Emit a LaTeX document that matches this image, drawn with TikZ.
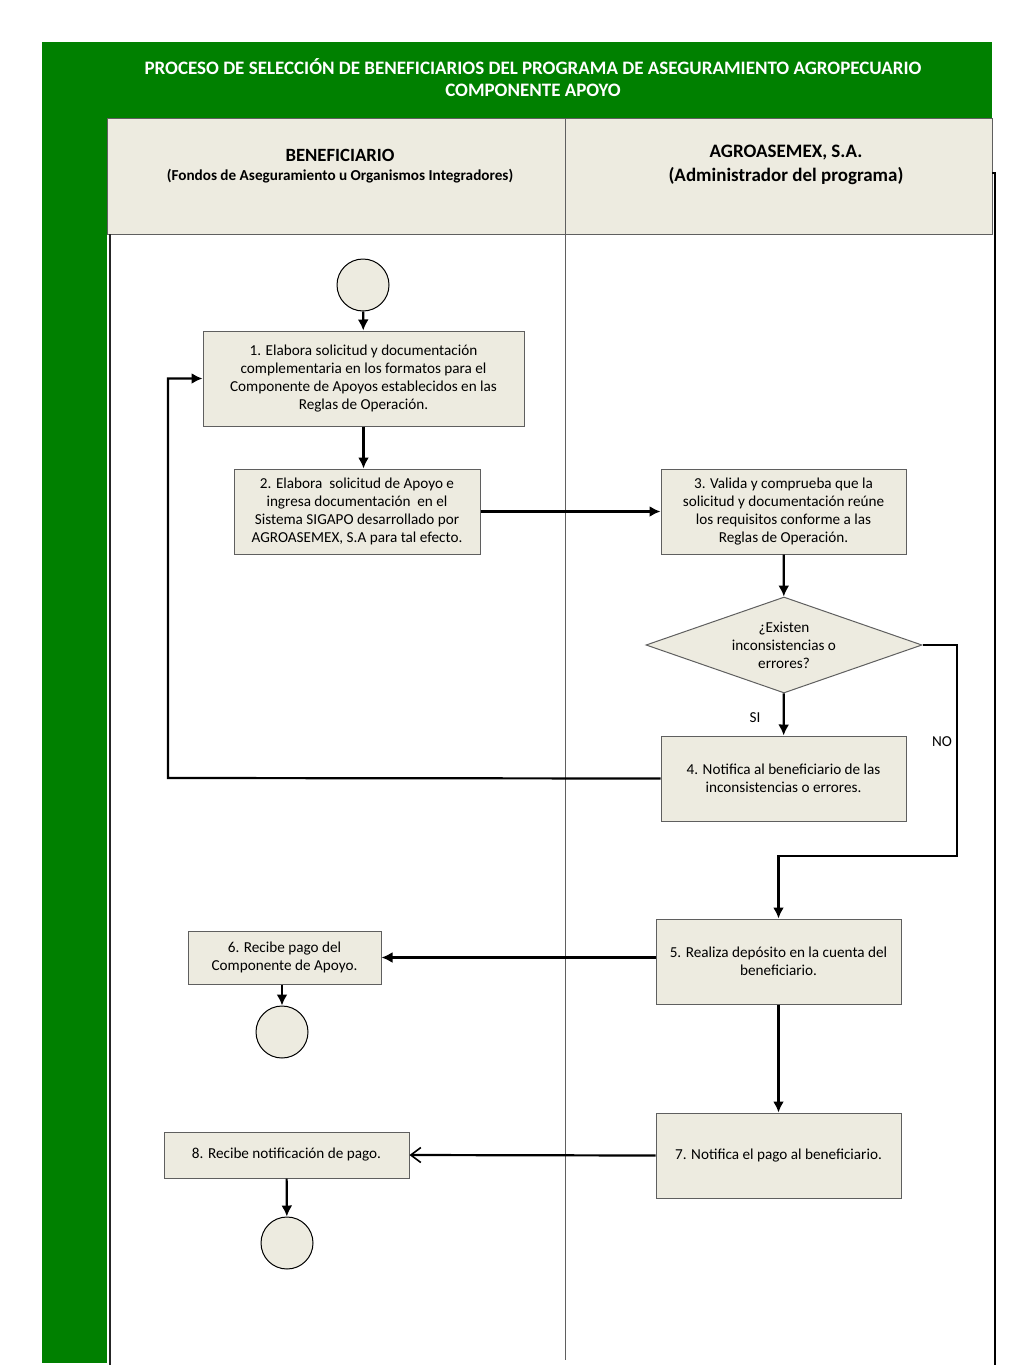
\documentclass[tikz,border=0pt]{standalone}
\usepackage{fontspec}
\setmainfont{Carlito}
\usepackage{tikz}
\usetikzlibrary{positioning,shapes,arrows,arrows.meta}
\definecolor{verde}{RGB}{0,128,0}
\definecolor{caja}{RGB}{237,235,224}
\definecolor{borde}{RGB}{95,95,95}
\tikzset{
  paso/.style={draw=borde,fill=caja,line width=1pt,align=center,inner sep=0pt,
    font=\fontsize{15.2}{18}\selectfont},
  circulo/.style={circle,draw=black,fill=caja,line width=1pt,minimum size=52pt,inner sep=0pt},
  decision/.style={diamond,draw=borde,fill=caja,line width=1pt,align=center,inner sep=0pt,
    shape aspect=2.9,minimum width=276pt,minimum height=96pt,font=\fontsize{15.2}{18}\selectfont},
  flecha/.style={-{Latex[length=11pt,width=11pt]},line width=2.2pt},
  etiqueta/.style={font=\fontsize{15.2}{18}\selectfont}
}
\begin{document}
\begin{tikzpicture}[x=1pt,y=-1pt]
\useasboundingbox[fill=white] (0,0) rectangle (1024,1365);
% marco verde
\fill[verde] (42,42) rectangle (992,118);
\fill[verde] (42,42) rectangle (107,1363);
\node[white,align=center,font=\bfseries\fontsize{19}{22}\selectfont] (titulo) at (533,78)
  {PROCESO DE SELECCIÓN DE BENEFICIARIOS DEL PROGRAMA DE ASEGURAMIENTO AGROPECUARIO\\COMPONENTE APOYO};
% carriles
\node[draw=borde,fill=caja,minimum width=458pt,minimum height=116pt,inner sep=0pt] (carril1) at (336,176) {};
\node[draw=borde,fill=caja,minimum width=427pt,minimum height=116pt,inner sep=0pt] (carril2) at (778.5,176) {};
\node[font=\bfseries\fontsize{18.7}{20}\selectfont] (tit1) at (340,155) {BENEFICIARIO};
\node[font=\bfseries\fontsize{15.2}{16}\selectfont] (sub1) at (340,176) {(Fondos de Aseguramiento u Organismos Integradores)};
\node[font=\bfseries\fontsize{19}{24}\selectfont,align=center] (tit2) at (786,165) {AGROASEMEX, S.A.\\(Administrador del programa)};
\draw[line width=1.8pt,black!85] (110,234) -- (110,1365);
\draw[line width=0.9pt,borde] (565,234) -- (565,1360);
\draw[line width=1.8pt] (992,173) -- (995,173) -- (995,1365);
% pasos
\node[circulo] (ini) at (363,285) {};
\node[paso,minimum width=321pt,minimum height=95pt] (p1) at (363.5,378.5)
  {1. Elabora solicitud y documentación\\complementaria en los formatos para el\\Componente de Apoyos establecidos en las\\Reglas de Operación.};
\node[paso,minimum width=246pt,minimum height=85pt] (p2) at (357,511.5)
  {2. Elabora\ \ solicitud de Apoyo e\\ingresa documentación\ \ en el\\Sistema SIGAPO desarrollado por\\AGROASEMEX, S.A para tal efecto.};
\node[paso,minimum width=245pt,minimum height=85pt] (p3) at (783.5,511.5)
  {3. Valida y comprueba que la\\solicitud y documentación reúne\\los requisitos conforme a las\\Reglas de Operación.};
\node[decision] (dec) at (784,645) {¿Existen\\inconsistencias o\\errores?};
\node[paso,minimum width=245pt,minimum height=85pt] (p4) at (783.5,778.5)
  {4. Notifica al beneficiario de las\\inconsistencias o errores.};
\node[paso,minimum width=245pt,minimum height=85pt] (p5) at (778.5,961.5)
  {5. Realiza depósito en la cuenta del\\beneficiario.};
\node[paso,minimum width=193pt,minimum height=53pt] (p6) at (284.5,957.5)
  {6. Recibe pago del\\Componente de Apoyo.};
\node[circulo] (fin1) at (282,1032) {};
\node[paso,minimum width=245pt,minimum height=85pt] (p7) at (778.5,1155.5)
  {7. Notifica el pago al beneficiario.};
\node[paso,minimum width=245pt,minimum height=46pt] (p8) at (286.5,1155)
  {8. Recibe notificación de pago.};
\node[circulo] (fin2) at (287,1243) {};
\node[etiqueta] (si) at (755,718) {SI};
\node[etiqueta] (no) at (942,742) {NO};
\coordinate (vuelta) at (168,778);
\coordinate (rodeo) at (957,856);
% conectores
\draw[flecha] (ini) -- (p1);
\draw[flecha] (p1.south) -- (p1.south |- p2.north);
\draw[flecha] (p2) -- (p3);
\draw[flecha] (p3) -- (dec);
\draw[flecha] (dec) -- (p4);
\draw[flecha] (p4.west) -- (vuelta) |- (p1.west);
\draw[flecha] (dec.east) -| (rodeo) -| (p5.north);
\draw[flecha] (p6.east -| p5.west) -- (p6.east);
\draw[flecha] (p6.south -| fin1.north) -- (fin1);
\draw[flecha] (p5) -- (p7);
\draw[-{Straight Barb[length=10pt,width=15pt,line width=1.6pt]},line width=2.2pt] (p7.west) -- (p8.east);
\draw[flecha] (p8) -- (fin2);
\end{tikzpicture}
\end{document}
